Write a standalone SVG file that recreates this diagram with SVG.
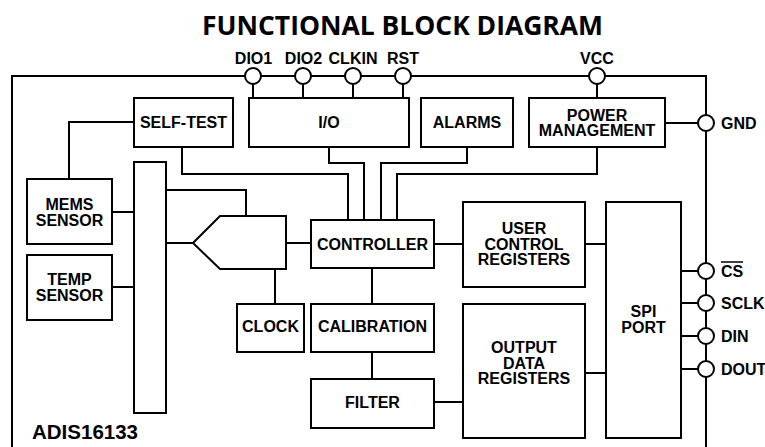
<svg xmlns="http://www.w3.org/2000/svg" width="765" height="447" viewBox="0 0 765 447">
<style>
.b{fill:#fff;stroke:#000;stroke-width:2}
.w{fill:none;stroke:#000;stroke-width:2}
.p{fill:#fff;stroke:#000;stroke-width:2}
text{font-family:"Liberation Sans",Arial,sans-serif;font-weight:700;font-size:16px;fill:#000}
.c{text-anchor:middle}
</style>
<rect width="765" height="447" fill="#fff"/>
<text x="402.5" y="35" class="c" style="font-family:'Open Sans','Liberation Sans',sans-serif;font-size:27px" textLength="401" lengthAdjust="spacingAndGlyphs">FUNCTIONAL BLOCK DIAGRAM</text>
<g id="frame">
<path class="w" d="M12,447 V76 H706 V447"/>
</g>
<g id="connectors" class="w">
<path d="M134,122 H69 V179"/>
<path d="M182,147 V174 H348 V220"/>
<path d="M329,147 V163 H364 V220"/>
<path d="M467,147 V163 H381 V220"/>
<path d="M597,147 V174 H397 V220"/>
<path d="M112,212 H134"/>
<path d="M112,287 H134"/>
<path d="M166,190 H246 V216"/>
<path d="M166,243 H193"/>
<path d="M286,243 H311"/>
<path d="M275,269 V304"/>
<path d="M434,244 H463"/>
<path d="M585,244 H606"/>
<path d="M372,268 V304"/>
<path d="M372,352 V379"/>
<path d="M434,402 H463"/>
<path d="M585,373 H606"/>
<path d="M681,271 H698"/>
<path d="M681,303 H698"/>
<path d="M681,336 H698"/>
<path d="M681,369 H698"/>
<path d="M665,123 H699"/>
<path d="M253,84 V98"/>
<path d="M303,84 V98"/>
<path d="M353,84 V98"/>
<path d="M403,84 V98"/>
<path d="M597,84 V98"/>
</g>
<g id="pins">
<g id="pin-dio1"><circle class="p" cx="253" cy="76" r="8"/><text x="253.5" y="64" class="c">DIO1</text></g>
<g id="pin-dio2"><circle class="p" cx="303" cy="76" r="8"/><text x="303.5" y="64" class="c">DIO2</text></g>
<g id="pin-clkin"><circle class="p" cx="353" cy="76" r="8"/><text x="353" y="64" class="c">CLKIN</text></g>
<g id="pin-rst"><circle class="p" cx="403" cy="76" r="8"/><text x="403" y="64" class="c">RST</text></g>
<g id="pin-vcc"><circle class="p" cx="597" cy="76" r="8"/><text x="597" y="64" class="c">VCC</text></g>
<g id="pin-gnd"><circle class="p" cx="706" cy="123" r="8"/><text x="721" y="128.5">GND</text></g>
<g id="pin-cs"><circle class="p" cx="706" cy="271" r="8"/><text x="721" y="276.5">CS</text><line x1="721" y1="262" x2="743" y2="262" stroke="#000" stroke-width="1.5"/></g>
<g id="pin-sclk"><circle class="p" cx="706" cy="303" r="8"/><text x="721" y="308.5">SCLK</text></g>
<g id="pin-din"><circle class="p" cx="706" cy="336" r="8"/><text x="721" y="341.5">DIN</text></g>
<g id="pin-dout"><circle class="p" cx="706" cy="369" r="8"/><text x="721" y="374.5">DOUT</text></g>
</g>
<g id="self-test"><rect class="b" x="134" y="98" width="99" height="49"/><text x="183.5" y="128" class="c">SELF-TEST</text></g>
<g id="io"><rect class="b" x="249" y="98" width="160" height="49"/><text x="329" y="128" class="c">I/O</text></g>
<g id="alarms"><rect class="b" x="421" y="98" width="92" height="49"/><text x="467" y="128" class="c">ALARMS</text></g>
<g id="power-management"><rect class="b" x="529" y="98" width="136" height="49"/><text x="597" y="121" class="c">POWER</text><text x="597" y="136" class="c">MANAGEMENT</text></g>
<g id="mems-sensor"><rect class="b" x="27" y="179" width="85" height="65"/><text x="69.5" y="210" class="c">MEMS</text><text x="69.5" y="226" class="c">SENSOR</text></g>
<g id="temp-sensor"><rect class="b" x="27" y="255" width="85" height="65"/><text x="69.5" y="285" class="c">TEMP</text><text x="69.5" y="301" class="c">SENSOR</text></g>
<g id="mux"><rect class="b" x="134" y="162" width="32" height="251"/></g>
<g id="adc"><polygon class="b" points="193,243 220,216 286,216 286,269 220,269"/></g>
<g id="clock"><rect class="b" x="237" y="304" width="67" height="48"/><text x="270.5" y="332" class="c">CLOCK</text></g>
<g id="controller"><rect class="b" x="311" y="220" width="123" height="48"/><text x="372.5" y="249.5" class="c">CONTROLLER</text></g>
<g id="calibration"><rect class="b" x="311" y="304" width="123" height="48"/><text x="372.5" y="332" class="c">CALIBRATION</text></g>
<g id="filter"><rect class="b" x="311" y="379" width="123" height="49"/><text x="372.5" y="408" class="c">FILTER</text></g>
<g id="user-control-registers"><rect class="b" x="463" y="202" width="122" height="85"/><text x="524" y="234" class="c">USER</text><text x="524" y="249.5" class="c">CONTROL</text><text x="524" y="265" class="c">REGISTERS</text></g>
<g id="output-data-registers"><rect class="b" x="463" y="304" width="122" height="134"/><text x="524" y="353" class="c">OUTPUT</text><text x="524" y="368.5" class="c">DATA</text><text x="524" y="384" class="c">REGISTERS</text></g>
<g id="spi-port"><rect class="b" x="606" y="202" width="75" height="236"/><text x="643.5" y="317" class="c">SPI</text><text x="643.5" y="333" class="c">PORT</text></g>
<text x="32" y="439" style="font-size:20.5px">ADIS16133</text>
</svg>
